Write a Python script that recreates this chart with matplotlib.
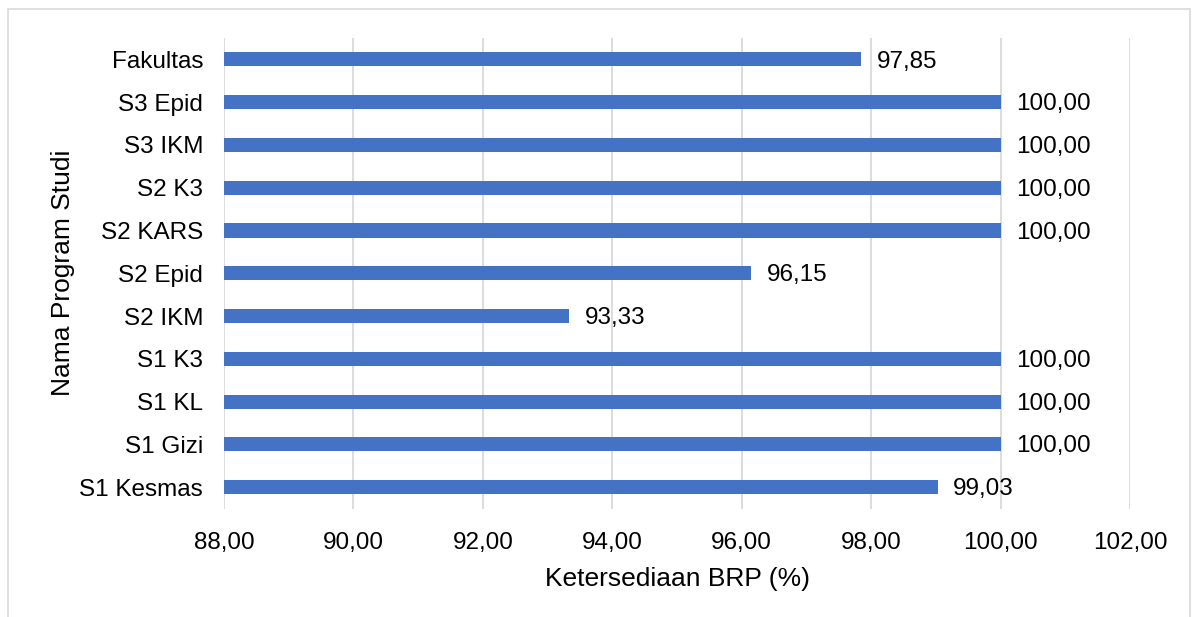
import matplotlib.pyplot as plt
from matplotlib.patches import Rectangle

plt.rcParams['font.family'] = ['Liberation Sans', 'DejaVu Sans']

# data, bottom to top as in the chart
prodi = ["S1 Kesmas", "S1 Gizi", "S1 KL", "S1 K3", "S2 IKM", "S2 Epid",
         "S2 KARS", "S2 K3", "S3 IKM", "S3 Epid", "Fakultas"]
nilai = [99.03, 100.00, 100.00, 100.00, 93.33, 96.15,
         100.00, 100.00, 100.00, 100.00, 97.85]
xticks = [88, 90, 92, 94, 96, 98, 100, 102]


def koma(v):
    return f"{v:.2f}".replace(".", ",")


def main():
    fig = plt.figure(figsize=(11.92, 6.17), dpi=100)
    # outer chart frame
    fig.patches.append(Rectangle((8 / 1192, -0.01), 1182 / 1192, 1 - 9 / 617 + 0.01,
                                 transform=fig.transFigure, fill=False,
                                 edgecolor='#d9d9d9', linewidth=1.2))

    ax = fig.add_axes([224 / 1192, 1 - 508.5 / 617, (1130 - 224) / 1192, (508.5 - 38) / 617])
    y = list(range(len(prodi)))
    ax.barh(y, [v - 88 for v in nilai], left=88, height=0.33, color='#4472C4', zorder=3)

    for yi, v in zip(y, nilai):
        ax.text(v + 0.24, yi - 0.05, koma(v), va='center', ha='left', fontsize=17.5, color='black')

    ax.set_xlim(88, 102)
    ax.set_ylim(-0.5, len(prodi) - 0.5)
    ax.set_xticks(xticks)
    ax.set_xticklabels([koma(t) for t in xticks], fontsize=17.5)
    ax.set_yticks(y)
    ax.set_yticklabels(prodi, fontsize=17.5)
    ax.tick_params(length=0)
    ax.tick_params(axis='y', pad=15)
    ax.tick_params(axis='x', pad=17)
    ax.grid(axis='x', color='#d9d9d9', linewidth=1.3, zorder=0)
    for s in ax.spines.values():
        s.set_visible(False)

    ax.set_xlabel("Ketersediaan BRP (%)", fontsize=19, labelpad=9)
    ax.set_ylabel("Nama Program Studi", fontsize=19, labelpad=3)

    fig.savefig("out.png", dpi=100)


if __name__ == "__main__":
    main()
